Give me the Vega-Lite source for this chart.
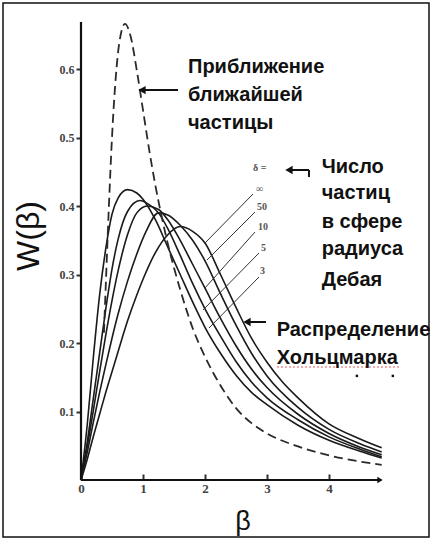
{
  "$schema": "https://vega.github.io/schema/vega-lite/v6.json",
  "width": 426,
  "height": 534,
  "autosize": {"type": "none"},
  "padding": {"left": 3, "top": 3, "right": 1, "bottom": 2},
  "background": "white",
  "config": {"view": {"stroke": "#111", "strokeWidth": 1.5}},
  "datasets": {
    "curves": [
      {"s":"3","b":0,"w":0},{"s":"3","b":0.1,"w":0.08},{"s":"3","b":0.2,"w":0.18},{"s":"3","b":0.3,"w":0.27},{"s":"3","b":0.4,"w":0.338},{"s":"3","b":0.5,"w":0.388},{"s":"3","b":0.6,"w":0.412},{"s":"3","b":0.75,"w":0.424},{"s":"3","b":0.9,"w":0.419},{"s":"3","b":1.0,"w":0.41},{"s":"3","b":1.2,"w":0.38},{"s":"3","b":1.4,"w":0.34},{"s":"3","b":1.6,"w":0.3},{"s":"3","b":1.8,"w":0.26},{"s":"3","b":2.0,"w":0.223},{"s":"3","b":2.25,"w":0.185},{"s":"3","b":2.5,"w":0.153},{"s":"3","b":2.75,"w":0.128},{"s":"3","b":3.0,"w":0.11},{"s":"3","b":3.5,"w":0.08},{"s":"3","b":4.0,"w":0.058},{"s":"3","b":4.5,"w":0.042},{"s":"3","b":4.85,"w":0.032},
      {"s":"5","b":0,"w":0},{"s":"5","b":0.1,"w":0.055},{"s":"5","b":0.2,"w":0.12},{"s":"5","b":0.3,"w":0.185},{"s":"5","b":0.4,"w":0.25},{"s":"5","b":0.5,"w":0.308},{"s":"5","b":0.6,"w":0.352},{"s":"5","b":0.75,"w":0.392},{"s":"5","b":0.95,"w":0.408},{"s":"5","b":1.1,"w":0.402},{"s":"5","b":1.25,"w":0.39},{"s":"5","b":1.4,"w":0.367},{"s":"5","b":1.6,"w":0.328},{"s":"5","b":1.8,"w":0.287},{"s":"5","b":2.0,"w":0.25},{"s":"5","b":2.25,"w":0.21},{"s":"5","b":2.5,"w":0.173},{"s":"5","b":2.75,"w":0.143},{"s":"5","b":3.0,"w":0.12},{"s":"5","b":3.5,"w":0.088},{"s":"5","b":4.0,"w":0.063},{"s":"5","b":4.5,"w":0.045},{"s":"5","b":4.85,"w":0.034},
      {"s":"10","b":0,"w":0},{"s":"10","b":0.1,"w":0.048},{"s":"10","b":0.2,"w":0.102},{"s":"10","b":0.3,"w":0.158},{"s":"10","b":0.4,"w":0.212},{"s":"10","b":0.5,"w":0.262},{"s":"10","b":0.6,"w":0.306},{"s":"10","b":0.75,"w":0.358},{"s":"10","b":0.9,"w":0.39},{"s":"10","b":1.07,"w":0.4},{"s":"10","b":1.25,"w":0.395},{"s":"10","b":1.4,"w":0.38},{"s":"10","b":1.6,"w":0.35},{"s":"10","b":1.8,"w":0.315},{"s":"10","b":2.0,"w":0.28},{"s":"10","b":2.25,"w":0.236},{"s":"10","b":2.5,"w":0.196},{"s":"10","b":2.75,"w":0.162},{"s":"10","b":3.0,"w":0.135},{"s":"10","b":3.5,"w":0.096},{"s":"10","b":4.0,"w":0.068},{"s":"10","b":4.5,"w":0.048},{"s":"10","b":4.85,"w":0.037},
      {"s":"50","b":0,"w":0},{"s":"50","b":0.1,"w":0.04},{"s":"50","b":0.2,"w":0.085},{"s":"50","b":0.3,"w":0.128},{"s":"50","b":0.4,"w":0.168},{"s":"50","b":0.5,"w":0.207},{"s":"50","b":0.6,"w":0.243},{"s":"50","b":0.75,"w":0.29},{"s":"50","b":0.9,"w":0.33},{"s":"50","b":1.05,"w":0.363},{"s":"50","b":1.25,"w":0.39},{"s":"50","b":1.4,"w":0.387},{"s":"50","b":1.6,"w":0.372},{"s":"50","b":1.8,"w":0.35},{"s":"50","b":2.0,"w":0.32},{"s":"50","b":2.25,"w":0.272},{"s":"50","b":2.5,"w":0.226},{"s":"50","b":2.75,"w":0.185},{"s":"50","b":3.0,"w":0.152},{"s":"50","b":3.5,"w":0.106},{"s":"50","b":4.0,"w":0.074},{"s":"50","b":4.5,"w":0.053},{"s":"50","b":4.85,"w":0.041},
      {"s":"inf","b":0,"w":0},{"s":"inf","b":0.1,"w":0.03},{"s":"inf","b":0.2,"w":0.064},{"s":"inf","b":0.3,"w":0.096},{"s":"inf","b":0.4,"w":0.128},{"s":"inf","b":0.5,"w":0.158},{"s":"inf","b":0.6,"w":0.188},{"s":"inf","b":0.75,"w":0.232},{"s":"inf","b":0.9,"w":0.27},{"s":"inf","b":1.0,"w":0.293},{"s":"inf","b":1.2,"w":0.332},{"s":"inf","b":1.4,"w":0.358},{"s":"inf","b":1.6,"w":0.37},{"s":"inf","b":1.8,"w":0.363},{"s":"inf","b":2.0,"w":0.346},{"s":"inf","b":2.25,"w":0.3},{"s":"inf","b":2.5,"w":0.252},{"s":"inf","b":2.75,"w":0.207},{"s":"inf","b":3.0,"w":0.172},{"s":"inf","b":3.25,"w":0.143},{"s":"inf","b":3.5,"w":0.12},{"s":"inf","b":4.0,"w":0.082},{"s":"inf","b":4.5,"w":0.06},{"s":"inf","b":4.85,"w":0.047}
    ],
    "nearest": [
      {"b":0.37,"w":0.215},{"b":0.4,"w":0.285},{"b":0.45,"w":0.4},{"b":0.5,"w":0.5},{"b":0.55,"w":0.575},{"b":0.6,"w":0.626},{"b":0.65,"w":0.654},{"b":0.71,"w":0.666},{"b":0.8,"w":0.648},{"b":0.9,"w":0.598},{"b":1.0,"w":0.54},{"b":1.1,"w":0.482},{"b":1.2,"w":0.43},{"b":1.3,"w":0.385},{"b":1.4,"w":0.345},{"b":1.5,"w":0.31},{"b":1.6,"w":0.278},{"b":1.8,"w":0.222},{"b":2.0,"w":0.18},{"b":2.25,"w":0.138},{"b":2.5,"w":0.105},{"b":2.75,"w":0.083},{"b":3.0,"w":0.068},{"b":3.5,"w":0.049},{"b":4.0,"w":0.036},{"b":4.5,"w":0.027},{"b":4.85,"w":0.022}
    ],
    "segs": [
      {"k":"axis","b":0,"w":0,"b2":0,"w2":0.6686},
      {"k":"axis","b":0,"w":0,"b2":4.8,"w2":0},
      {"k":"lead","b":2.774,"w":0.4175,"b2":2.0,"w2":0.346},
      {"k":"lead","b":2.806,"w":0.3912,"b2":2.032,"w2":0.3212},
      {"k":"lead","b":2.806,"w":0.362,"b2":2.0,"w2":0.2803},
      {"k":"lead","b":2.871,"w":0.3314,"b2":1.968,"w2":0.2482},
      {"k":"lead","b":2.871,"w":0.2964,"b2":2.065,"w2":0.2219},
      {"k":"arrow","b":0.95,"w":0.5693,"b2":1.565,"w2":0.5693},
      {"k":"arrow","b":2.65,"w":0.2307,"b2":2.984,"w2":0.2307},
      {"k":"arrow","b":3.32,"w":0.4526,"b2":3.677,"w2":0.4526},
      {"k":"arrow","b":3.677,"w":0.4526,"b2":3.677,"w2":0.4423},
      {"k":"red","b":3.161,"w":0.165,"b2":5.145,"w2":0.165}
    ],
    "heads": [
      {"k":"left","b":0.984,"w":0.5693},
      {"k":"left","b":2.677,"w":0.2307},
      {"k":"left","b":3.355,"w":0.4526},
      {"k":"right","b":4.823,"w":0}
    ],
    "dots": [
      {"b":4.45,"w":0.152},{"b":5.03,"w":0.152}
    ],
    "notes": [
      {"t":"Приближение","b":1.726,"w":0.603},
      {"t":"ближайшей","b":1.726,"w":0.562},
      {"t":"частицы","b":1.726,"w":0.521},
      {"t":"Число","b":3.882,"w":0.457},
      {"t":"частиц","b":3.882,"w":0.419},
      {"t":"в сфере","b":3.882,"w":0.3766},
      {"t":"радиуса","b":3.882,"w":0.3372},
      {"t":"Дебая","b":3.882,"w":0.292},
      {"t":"Распределение","b":3.156,"w":0.219},
      {"t":"Хольцмарка","b":3.156,"w":0.1788}
    ],
    "labels": [
      {"t":"δ =","b":2.774,"w":0.4555},
      {"t":"∞","b":2.823,"w":0.4248},
      {"t":"50","b":2.839,"w":0.3985},
      {"t":"10","b":2.855,"w":0.3693},
      {"t":"5","b":2.903,"w":0.3387},
      {"t":"3","b":2.887,"w":0.3051}
    ],
    "ytitle": [{"t":"W(β)","b":-0.839,"w":0.3562}],
    "xtitle": [{"t":"β","b":2.613,"w":-0.0613}]
  },
  "encoding": {
    "x": {"field":"b","type":"quantitative","scale":{"domain":[-1.2581,5.613],"nice":false,"zero":false},
      "axis":{"orient":"bottom","offset":-57,"values":[0,1,2,3,4],"domain":false,"grid":false,"title":null,"tickSize":-6,"tickWidth":2,"tickColor":"#333","labelPadding":8,"labelFont":"Liberation Serif","labelFontSize":13,"labelFontWeight":"bold","labelColor":"#444"}},
    "y": {"field":"w","type":"quantitative","scale":{"domain":[-0.0832,0.6964],"nice":false,"zero":false},
      "axis":{"orient":"left","offset":-78,"values":[0.1,0.2,0.3,0.4,0.5,0.6],"format":".1f","domain":false,"grid":false,"title":null,"tickSize":5,"tickWidth":2,"tickColor":"#333","labelPadding":2,"labelFont":"Liberation Serif","labelFontSize":12,"labelFontWeight":"bold","labelColor":"#444"}}
  },
  "layer": [
    {"data":{"name":"curves"},"mark":{"type":"line","interpolate":"monotone","color":"#1a1a1a","strokeWidth":1.6},"encoding":{"detail":{"field":"s"}}},
    {"data":{"name":"nearest"},"mark":{"type":"line","interpolate":"monotone","color":"#2a2a2a","strokeWidth":1.8,"strokeDash":[9,5]},"encoding":{}},
    {"data":{"name":"segs"},"transform":[{"filter":"datum.k == 'axis'"}],"mark":{"type":"rule","color":"#111","strokeWidth":2.2},"encoding":{"x2":{"field":"b2"},"y2":{"field":"w2"}}},
    {"data":{"name":"segs"},"transform":[{"filter":"datum.k == 'lead'"}],"mark":{"type":"rule","color":"#333","strokeWidth":1},"encoding":{"x2":{"field":"b2"},"y2":{"field":"w2"}}},
    {"data":{"name":"segs"},"transform":[{"filter":"datum.k == 'arrow'"}],"mark":{"type":"rule","color":"#111","strokeWidth":2},"encoding":{"x2":{"field":"b2"},"y2":{"field":"w2"}}},
    {"data":{"name":"segs"},"transform":[{"filter":"datum.k == 'red'"}],"mark":{"type":"rule","color":"#e03030","strokeWidth":1.2,"strokeDash":[2,2],"opacity":0.8},"encoding":{"x2":{"field":"b2"},"y2":{"field":"w2"}}},
    {"data":{"name":"heads"},"transform":[{"filter":"datum.k == 'left'"}],"mark":{"type":"point","shape":"triangle-left","filled":true,"color":"#111","size":70,"opacity":1}},
    {"data":{"name":"heads"},"transform":[{"filter":"datum.k == 'right'"}],"mark":{"type":"point","shape":"triangle-right","filled":true,"color":"#111","size":40,"opacity":1}},
    {"data":{"name":"dots"},"mark":{"type":"point","shape":"square","filled":true,"color":"#111","size":6,"opacity":1}},
    {"data":{"name":"notes"},"mark":{"type":"text","align":"left","baseline":"middle","font":"Liberation Sans","fontSize":20,"fontWeight":"bold","color":"#111"},"encoding":{"text":{"field":"t"}}},
    {"data":{"name":"labels"},"mark":{"type":"text","align":"left","baseline":"middle","font":"Liberation Serif","fontSize":10,"fontWeight":"bold","color":"#555"},"encoding":{"text":{"field":"t"}}},
    {"data":{"name":"ytitle"},"mark":{"type":"text","align":"center","baseline":"middle","angle":270,"font":"Liberation Sans","fontSize":32,"color":"#111"},"encoding":{"text":{"field":"t"}}},
    {"data":{"name":"xtitle"},"mark":{"type":"text","align":"center","baseline":"middle","font":"Liberation Sans","fontSize":27,"color":"#111"},"encoding":{"text":{"field":"t"}}}
  ]
}
